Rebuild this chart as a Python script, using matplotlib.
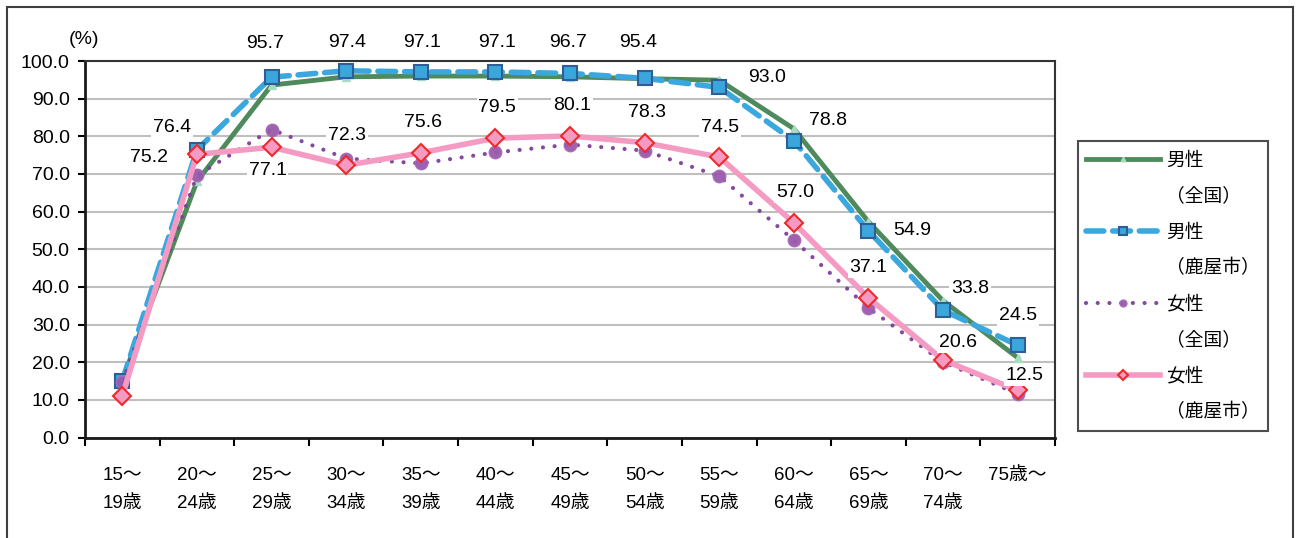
import matplotlib
matplotlib.use("Agg")
import matplotlib.pyplot as plt
from matplotlib.lines import Line2D
from matplotlib.patches import Rectangle

plt.rcParams['font.family'] = ['Liberation Sans', 'Noto Sans CJK JP', 'DejaVu Sans']

categories = ["15～\n19歳", "20～\n24歳", "25～\n29歳", "30～\n34歳", "35～\n39歳",
              "40～\n44歳", "45～\n49歳", "50～\n54歳", "55～\n59歳", "60～\n64歳",
              "65～\n69歳", "70～\n74歳", "75歳～"]
male_national = [15.3, 68.0, 93.6, 95.8, 96.0, 96.0, 95.8, 95.3, 94.9, 82.0, 57.3, 36.3, 21.2]
male_kanoya = [15.1, 76.4, 95.7, 97.4, 97.1, 97.1, 96.7, 95.4, 93.0, 78.8, 54.9, 33.8, 24.5]
female_national = [14.7, 69.6, 81.8, 74.1, 72.8, 75.7, 77.8, 76.2, 69.4, 52.4, 34.4, 20.0, 11.6]
female_kanoya = [11.1, 75.2, 77.1, 72.3, 75.6, 79.5, 80.1, 78.3, 74.5, 57.0, 37.1, 20.6, 12.5]
yticks = [0, 10, 20, 30, 40, 50, 60, 70, 80, 90, 100]

# label offsets in pixels (dx, dy) for indices 1..12
male_offsets = [(-25, 22), (-6, 34), (1, 28), (1, 29), (2, 29), (-2, 31), (-6, 36),
                (48, 10), (34, 20), (44, 0), (27, 22), (0, 30)]
female_offsets = [(-48, -3), (-4, -23), (1, 30), (2, 30), (2, 31), (2, 30), (2, 30),
                  (1, 30), (1, 30), (0, 30), (15, 17), (7, 15)]

W, H = 1298, 538
fig = plt.figure(figsize=(W / 100, H / 100), dpi=100)
ax = fig.add_axes([85 / W, 1 - 437.5 / H, (1055 - 85) / W, (437.5 - 61) / H])

x = list(range(len(categories)))

l1, = ax.plot(x, male_national, color='#4F8A5C', lw=3.5, marker='^', ms=6,
              mfc='#A8DCC2', mec='#A8DCC2', zorder=3)
l2, = ax.plot(x, male_kanoya, color='#3AA8DE', lw=4, linestyle=(0, (3.2, 1.6)),
              dash_capstyle='round', marker='s', ms=10, mfc='#3BA6DB', mec='#2D5E96',
              mew=1.5, zorder=4)
l3, = ax.plot(x, female_national, color='#7E3F98', lw=3, linestyle=(0, (0.01, 2.8)),
              dash_capstyle='round', marker='o', ms=9, mfc='#9A5AAC', mec='#A66BB6',
              alpha=0.95, zorder=5)
l4, = ax.plot(x, female_kanoya, color='#F59BC3', lw=4, marker='D', ms=9,
              mfc='#F59BC3', mec='#EE2A2A', mew=1.5, zorder=6)

bbox = dict(boxstyle='square,pad=0.1', fc='white', ec='none')
for i in range(1, len(categories)):
    dx, dy = male_offsets[i - 1]
    ax.annotate(f"{male_kanoya[i]:.1f}", (x[i], male_kanoya[i]), xytext=(dx, dy),
                textcoords='offset pixels', ha='center', va='center', fontsize=14,
                bbox=bbox, zorder=10, annotation_clip=False)
    dx, dy = female_offsets[i - 1]
    ax.annotate(f"{female_kanoya[i]:.1f}", (x[i], female_kanoya[i]), xytext=(dx, dy),
                textcoords='offset pixels', ha='center', va='center', fontsize=14,
                bbox=bbox, zorder=10, annotation_clip=False)

ax.set_xlim(-0.5, len(categories) - 0.5)
ax.set_ylim(0, 100)
ax.set_yticks(yticks)
ax.set_yticklabels([f"{v:.1f}" for v in yticks], fontsize=14)
ax.set_xticks(x)
ax.set_xticklabels(categories, fontsize=13.5, linespacing=1.9, va='top')
ax.set_xticks([i - 0.5 for i in range(len(categories) + 1)], minor=True)
ax.tick_params(axis='x', which='major', length=0, pad=21)
ax.tick_params(axis='x', which='minor', length=6, width=1.5, direction='out')
ax.tick_params(axis='y', length=5, width=1.5, direction='out', pad=6)
ax.grid(axis='y', color='#BFBFBF', lw=1.5, zorder=0)
ax.set_axisbelow(True)
for s in ['left', 'bottom']:
    ax.spines[s].set_linewidth(2)
    ax.spines[s].set_color('#1a1a1a')
for s in ['top', 'right']:
    ax.spines[s].set_linewidth(1.5)
    ax.spines[s].set_color('#333333')

fig.text(84 / W, 1 - 40 / H, "(%)", ha='center', va='center', fontsize=14)

blank = Line2D([], [], linestyle='none')
handles = [l1, blank, l2, blank, l3, blank, l4, blank]
labels = ["男性", "（全国）", "男性", "（鹿屋市）", "女性", "（全国）", "女性", "（鹿屋市）"]
leg = fig.legend(handles, labels, loc='upper left', bbox_to_anchor=(1078 / W, 1 - 141 / H),
                 frameon=True, fancybox=False, borderaxespad=0, markerscale=0.55,
                 handlelength=3.9, handletextpad=0.35, labelspacing=0.8, borderpad=0.45,
                 prop={'family': ['Noto Sans CJK JP', 'DejaVu Sans'], 'size': 13.5})
leg.get_frame().set_edgecolor('#222222')
leg.get_frame().set_linewidth(1.5)

fig.patches.append(Rectangle((7 / W, -0.1), (1293 - 7) / W, 1.1 - 7 / H, fill=False,
                             ec='#404040', lw=1.5, transform=fig.transFigure, clip_on=False))

fig.savefig("out.png", dpi=100)
